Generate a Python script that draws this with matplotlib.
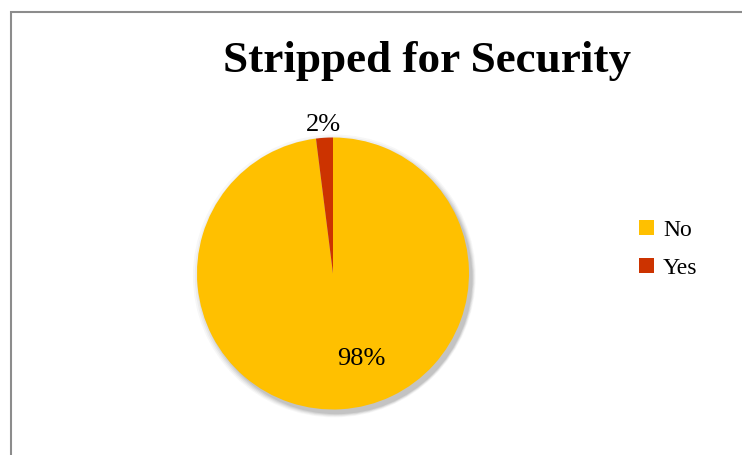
import matplotlib
matplotlib.use("Agg")
import matplotlib.pyplot as plt
from matplotlib.patches import Rectangle, Circle, Patch

categories = ["No", "Yes"]
shares = [98, 2]
colors = ["#FFC000", "#CC3300"]
title = "Stripped for Security"

W, H = 742, 456
fig = plt.figure(figsize=(W / 100, H / 100), dpi=100)

# chart frame, only the top and left edges fall inside the canvas
fig.patches.append(Rectangle((10.5 / W, -0.1), 1.2, (H - 12.5) / H + 0.1,
                             transform=fig.transFigure, fill=False,
                             edgecolor="#8c8c8c", linewidth=1.5))

# pie axes: center (333, 274.5), radius 136 px
cx, cy, r = 333, 274.5, 136
ax = fig.add_axes([(cx - r) / W, (H - cy - r) / H, 2 * r / W, 2 * r / H])

# soft shadow below the pie
for i, a in enumerate([0.03, 0.04, 0.05, 0.06, 0.07]):
    ax.add_patch(Circle((0.01 + 0.004 * i, -0.018 - 0.004 * i), 1.0 + 0.01 * (4 - i),
                        color="black", alpha=a, lw=0, zorder=0, clip_on=False))

wedges, texts, autotexts = ax.pie(
    shares, colors=colors, startangle=90, counterclock=False,
    autopct="%1.0f%%", pctdistance=1.1, radius=1.0,
    wedgeprops=dict(linewidth=0),
    textprops=dict(fontsize=19, family="Liberation Serif", color="black"))
for w in wedges:
    w.set_zorder(2)
# the large slice label sits low and right inside the slice
autotexts[0].set_position((0.21, -0.62))
autotexts[0].set_ha("center")
ax.set_xlim(-1, 1)
ax.set_ylim(-1, 1)
ax.axis("off")

fig.text(427 / W, 1 - 72 / H, title, ha="center", va="baseline",
         fontsize=32.5, fontweight="bold", family="Liberation Serif")

handles = [Patch(facecolor=c, edgecolor="none") for c in colors]
fig.legend(handles, categories, loc="center left",
           bbox_to_anchor=(639 / W, 1 - 250 / H), frameon=False,
           borderpad=0, borderaxespad=0,
           prop=dict(family="Liberation Serif", size=17),
           handlelength=0.62, handleheight=0.62, handletextpad=0.4,
           labelspacing=0.72)

fig.savefig("out.png", dpi=100)
